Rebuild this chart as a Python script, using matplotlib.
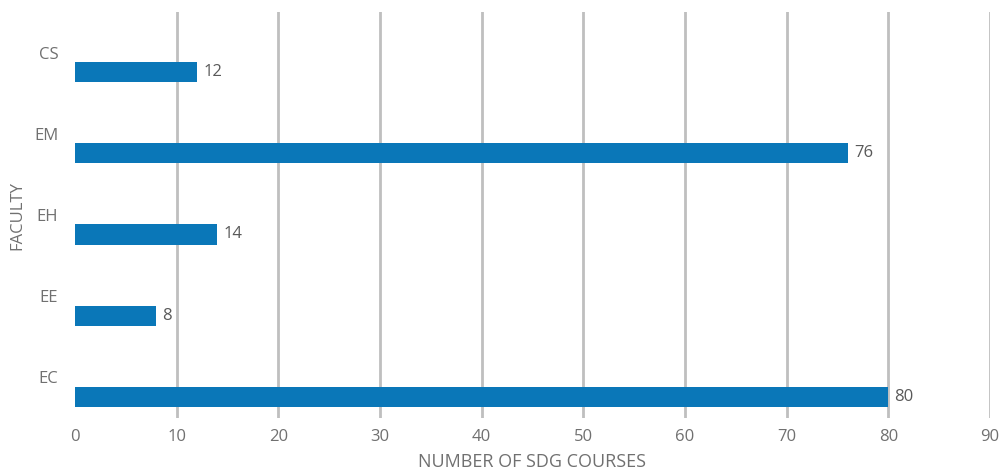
import matplotlib.pyplot as plt
import numpy as np

# Data
faculties = ['EC', 'EE', 'EH', 'EM', 'CS']
courses = [80, 8, 14, 76, 12]
x_ticks = [0, 10, 20, 30, 40, 50, 60, 70, 80, 90]

plt.rcParams['font.family'] = ['Open Sans', 'DejaVu Sans']

fig = plt.figure(figsize=(10.04, 4.74), dpi=100)
ax = fig.add_axes([75 / 1004, 1 - 418 / 474, 915 / 1004, 406 / 474])

pos = np.arange(len(faculties))
# bars sit below the category label, like the Excel original
ax.barh(pos - 0.24, courses, height=0.25, color='#0A77B8', zorder=3)

for y, v in zip(pos, courses):
    ax.text(v + 0.6, y - 0.24, str(v), va='center', ha='left',
            fontsize=12, color='#595959')

ax.set_xlim(0, 90)
ax.set_ylim(-0.5, len(faculties) - 0.5)
ax.set_xticks(x_ticks)
ax.set_yticks(pos)
ax.set_yticklabels(faculties)

ax.grid(axis='x', color='#BFBFBF', linewidth=2, zorder=0)
ax.get_xgridlines()[0].set_visible(False)
ax.tick_params(axis='both', length=0, labelsize=12, colors='#707070')
ax.tick_params(axis='x', pad=8)
ax.tick_params(axis='y', pad=12)

for s in ax.spines.values():
    s.set_visible(False)

ax.set_xlabel('NUMBER OF SDG COURSES', fontsize=13, color='#707070', labelpad=6)
ax.set_ylabel('FACULTY', fontsize=12, color='#707070', labelpad=6)

plt.savefig('out.png', dpi=100)
